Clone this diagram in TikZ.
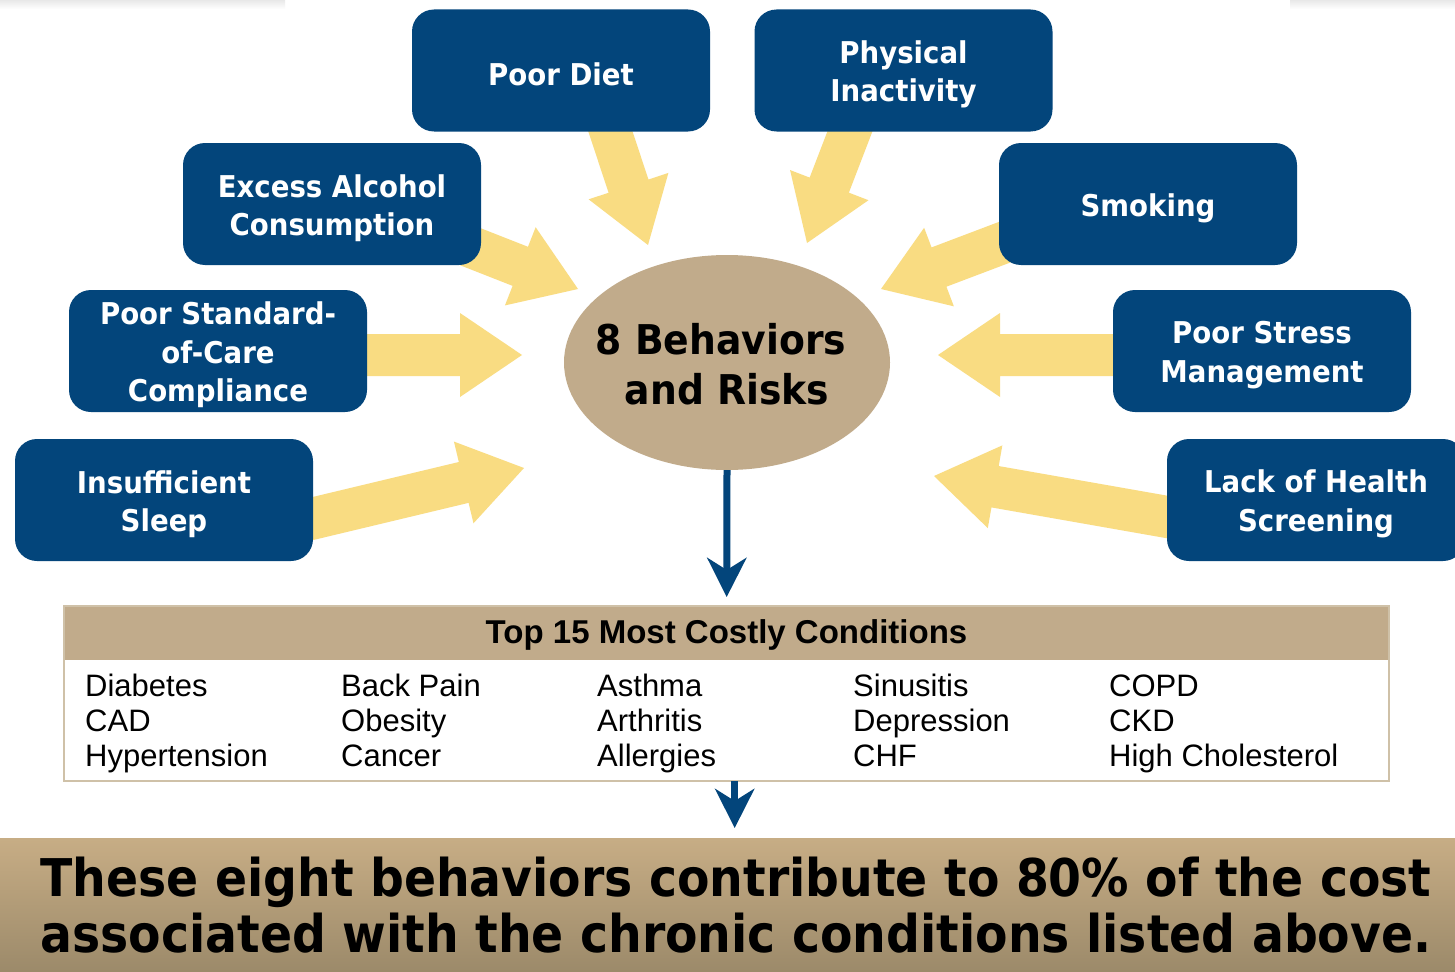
\documentclass[tikz,border=0pt]{standalone}
\usepackage{fontspec}
\setmainfont{Liberation Sans}
\newfontfamily\headfont[FakeStretch=0.92]{DejaVu Sans}
\newfontfamily\bandface[FakeStretch=0.91]{DejaVu Sans}
\usetikzlibrary{arrows.meta,calc,shapes.geometric}

\definecolor{navy}{RGB}{3,69,123}
\definecolor{butter}{RGB}{249,220,130}
\definecolor{khaki}{RGB}{193,171,139}
\definecolor{khakiline}{RGB}{207,193,168}
\definecolor{bandtop}{RGB}{199,173,133}
\definecolor{bandbot}{RGB}{156,138,106}

\pgfdeclarelayer{background}
\pgfsetlayers{background,main}

\tikzset{
  factor/.style={fill=navy, rounded corners=22pt, minimum width=298pt,
    minimum height=122pt, inner sep=0pt},
  factortext/.style={text=white, align=center, inner sep=0pt,
    font=\headfont\bfseries\fontsize{30}{38.5}\selectfont},
  fatfill/.style={fill=butter},
  core/.style={ellipse, fill=khaki, minimum width=326pt, minimum height=215pt,
    inner sep=0pt},
  coretext/.style={align=center, inner sep=0pt,
    font=\headfont\bfseries\fontsize{41}{50}\selectfont},
  flow/.style={draw=navy, line width=7pt,
    -{Stealth[length=39pt, width=39pt, inset=12pt]}},
  cell/.style={anchor=base west, inner sep=0pt,
    font=\fontsize{31}{35}\selectfont},
}

% one rounded factor box with its white caption
\newcommand\factor[3]{%
  \node[factor] (#1) at (#2) {};
  \node[factortext] (#1-t) at ($(#1.center)+(0,4)$) {#3};}

% wide block arrow from a tail point to a tip point
\newcommand\fatarrow[2]{%
  \coordinate (fa-b) at ($(#2)!62pt!(#1)$);
  \fill[fatfill]
    ($(#1)!21pt!90:(#2)$) -- ($(fa-b)!21pt!90:(#2)$) -- ($(fa-b)!42pt!90:(#2)$)
    -- (#2)
    -- ($(fa-b)!42pt!-90:(#2)$) -- ($(fa-b)!21pt!-90:(#2)$) -- ($(#1)!21pt!-90:(#2)$)
    -- cycle;}

\begin{document}
\begin{tikzpicture}[x=1pt, y=-1pt]
\useasboundingbox (0,0) rectangle (1455,971);

% the eight factors
\factor{diet}{561,70.5}{Poor Diet}
\factor{phys}{903.5,70.5}{Physical\\Inactivity}
\factor{alc}{332,204}{Excess Alcohol\\Consumption}
\factor{smk}{1148,204}{Smoking}
\factor{std}{218,351}{Poor Standard-\\of-Care\\Compliance}
\factor{str}{1262,351}{Poor Stress\\Management}
\factor{slp}{164,500}{Insufficient\\Sleep}
\factor{scr}{1316,500}{Lack of Health\\Screening}

% centre ellipse
\node[core] (core) at (727,362.5) {};
\node[coretext] (core-t) at ($(core.center)+(0,2)$) {8 Behaviors\hspace*{12pt}\\and Risks};

% tails (inside the boxes) and tips (near the ellipse) of the block arrows
\coordinate (t-diet) at (600,100);  \coordinate (p-diet) at (648,245);
\coordinate (t-phys) at (862,100);  \coordinate (p-phys) at (807,243);
\coordinate (t-alc)  at (438,234);  \coordinate (p-alc)  at (578,289);
\coordinate (t-smk)  at (1021,236); \coordinate (p-smk)  at (881,289);
\coordinate (t-std)  at (340,355);  \coordinate (p-std)  at (522,355);
\coordinate (t-str)  at (1140,355); \coordinate (p-str)  at (938,355);
\coordinate (t-slp)  at (290,524);  \coordinate (p-slp)  at (524,468);
\coordinate (t-scr)  at (1190,521); \coordinate (p-scr)  at (934,476);

\begin{pgfonlayer}{background}
  \fill[white] (0,0) rectangle (1455,971);
  % soft grey shadow along the top corners
  \shade[top color=black!9, bottom color=white] (0,0) rectangle (285,9);
  \shade[top color=black!9, bottom color=white] (1290,0) rectangle (1455,9);
  \fatarrow{t-diet}{p-diet}
  \fatarrow{t-phys}{p-phys}
  \fatarrow{t-alc}{p-alc}
  \fatarrow{t-smk}{p-smk}
  \fatarrow{t-std}{p-std}
  \fatarrow{t-str}{p-str}
  \fatarrow{t-slp}{p-slp}
  \fatarrow{t-scr}{p-scr}
\end{pgfonlayer}

% conditions table
\node[minimum width=1325pt, minimum height=175pt, inner sep=0pt,
      anchor=north west] (tbl) at (64,606) {};
\fill[khaki] (tbl.north west) rectangle ($(tbl.north east)+(0,54)$);
\draw[khakiline, line width=2pt] (tbl.north west) rectangle (tbl.south east);
\node[anchor=base, inner sep=0pt, font=\bfseries\fontsize{33}{36}\selectfont]
  (hdr) at (726.5,643) {Top 15 Most Costly Conditions};

\node[cell] (c11) at (85,696)   {Diabetes};
\node[cell] (c12) at (85,731)   {CAD};
\node[cell] (c13) at (85,766)   {Hypertension};
\node[cell] (c21) at (341,696)  {Back Pain};
\node[cell] (c22) at (341,731)  {Obesity};
\node[cell] (c23) at (341,766)  {Cancer};
\node[cell] (c31) at (597,696)  {Asthma};
\node[cell] (c32) at (597,731)  {Arthritis};
\node[cell] (c33) at (597,766)  {Allergies};
\node[cell] (c41) at (853,696)  {Sinusitis};
\node[cell] (c42) at (853,731)  {Depression};
\node[cell] (c43) at (853,766)  {CHF};
\node[cell] (c51) at (1109,696) {COPD};
\node[cell] (c52) at (1109,731) {CKD};
\node[cell] (c53) at (1109,766) {High Cholesterol};

% closing statement band
\node[minimum width=1455pt, minimum height=133pt, inner sep=0pt,
      anchor=north west, top color=bandtop, bottom color=bandbot] (band) at (0,838) {};
\node[align=center, inner sep=0pt,
      font=\bandface\bfseries\fontsize{52}{56}\selectfont] (msg) at (736,905)
  {These eight behaviors contribute to 80\% of the cost\\
   associated with the chronic conditions listed above.};

% downward flow
\draw[flow] (core.south) -- ($(tbl.north)+(0,-9)$);
\coordinate (f2a) at ($(tbl.south)+(8,0)$);
\coordinate (f2b) at ($(band.north -| f2a)+(0,-10)$);
\draw[flow] (f2a) -- (f2b);
\end{tikzpicture}
\end{document}
